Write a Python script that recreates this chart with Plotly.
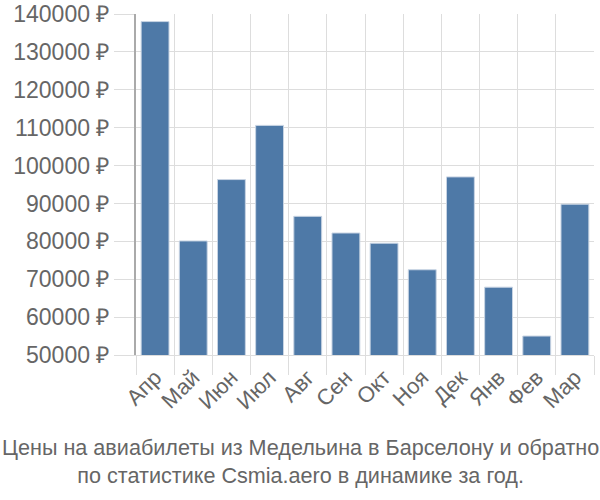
import plotly.graph_objects as go

months = ["Апр", "Май", "Июн", "Июл", "Авг", "Сен", "Окт", "Ноя", "Дек", "Янв", "Фев", "Мар"]
prices = [138000, 80100, 96300, 110600, 86600, 82200, 79500, 72500, 97000, 67900, 55000, 89800]
y_ticks = [50000, 60000, 70000, 80000, 90000, 100000, 110000, 120000, 130000, 140000]
y_tick_labels = [f"{v} ₽" for v in y_ticks]
title_lines = ["Цены на авиабилеты из Медельина в Барселону и обратно",
               "по статистике Csmia.aero в динамике за год."]

fig = go.Figure(go.Bar(
    x=months, y=prices,
    marker=dict(color="#4e79a7", line=dict(color="#c8d4e3", width=1)),
))

fig.update_layout(
    width=600, height=500,
    margin=dict(l=136, r=6, t=14, b=145, autoexpand=False),
    paper_bgcolor="white", plot_bgcolor="white",
    font=dict(family="Liberation Sans, Arial, sans-serif", color="#666666"),
    bargap=0.27,
    showlegend=False,
    xaxis=dict(
        automargin=False,
        tickson="boundaries", ticks="outside", ticklen=19, tickcolor="#dddddd",
        showgrid=True, gridcolor="#dddddd", gridwidth=1,
        tickangle=-45, tickfont=dict(size=22, color="#666666"),
        showline=True, linecolor="#dddddd",
    ),
    yaxis=dict(
        automargin=False,
        range=[50000, 140000], tickvals=y_ticks, ticktext=y_tick_labels,
        ticks="outside", ticklen=20, tickcolor="#dddddd",
        showgrid=True, gridcolor="#dddddd", gridwidth=1,
        tickfont=dict(size=23, color="#666666"),
        showline=True, linecolor="#aaaaaa", linewidth=2,
        zeroline=False,
    ),
    annotations=[dict(
        text="<br>".join(title_lines), x=0.5, y=0, xref="paper", yref="paper",
        xanchor="center", yanchor="top", yshift=-78, xshift=-65,
        showarrow=False, font=dict(size=21.6, color="#666666"),
    )],
)

fig.write_html("out.html", config={"displayModeBar": False},
               post_script="document.body.style.margin='0';document.body.style.overflow='hidden';")
